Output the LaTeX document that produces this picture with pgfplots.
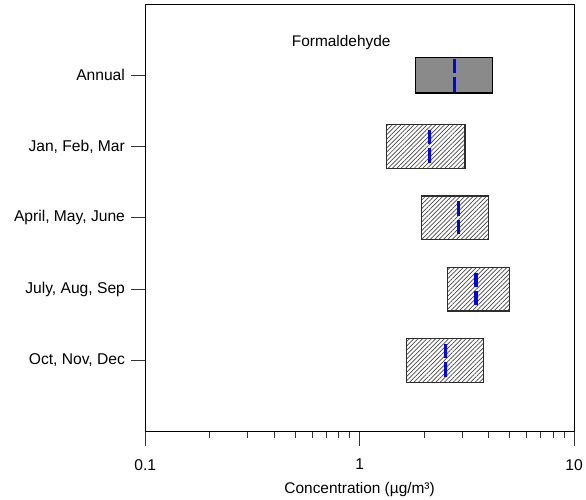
\documentclass[border=0pt]{standalone}
\usepackage{pgfplots}
\pgfplotsset{compat=1.18}
\usetikzlibrary{patterns.meta}
\usepackage{fontspec}
\setmainfont{Liberation Sans}

\definecolor{boxedge}{RGB}{45,45,45}
\definecolor{annualfill}{RGB}{138,138,138}
\definecolor{hatch}{RGB}{70,70,70}

\pgfplotsset{
  hatched/.style={draw=boxedge, line width=1.2bp, line join=miter,
    pattern={Lines[angle=45,distance=3.1bp,line width=0.7bp]}, pattern color=hatch},
  solidbox/.style={draw=black, line width=1.2bp, line join=miter, fill=annualfill},
  median/.style={blue, line width=3.6bp, dash pattern=on 14.5bp off 4bp},
}

\begin{document}
\begin{tikzpicture}
\begin{axis}[
  scale only axis, width=431bp, height=430bp,
  xmode=log, xmin=0.1, xmax=10, ymin=0, ymax=6,
  xtick={0.1,1,10}, xticklabels={0.1,1,10},
  ytick={1,2,3,4,5},
  yticklabels={{Oct, Nov, Dec},{July, Aug, Sep},{April, May, June},{Jan, Feb, Mar},Annual},
  xtick pos=bottom, ytick pos=left, tick align=outside,
  major tick length=14bp, minor tick length=6bp,
  every tick/.style={black!80, line width=0.8bp},
  axis line style={black, line width=0.9bp},
  tick label style={font=\fontsize{15.7bp}{18bp}\selectfont},
  xticklabel style={yshift=-10bp},
  yticklabel style={xshift=-3bp},
  label style={font=\fontsize{15.5bp}{18bp}\selectfont},
  xlabel={Concentration (µg/m³)},
  xlabel style={yshift=-5bp},
  /pgf/number format/assume math mode=true,
  clip=false,
]
  \coordinate (o) at (rel axis cs:0,0);

  % quartile boxes: (lower, y-h) (upper, y-h) (upper, y+h) (lower, y+h)
  \addplot[solidbox] coordinates {(1.83,4.751) (4.15,4.751) (4.15,5.249) (1.83,5.249)} -- cycle;
  \addplot[hatched] coordinates {(1.33,3.693) (3.10,3.693) (3.10,4.307) (1.33,4.307)} -- cycle;
  \addplot[hatched] coordinates {(1.944,2.693) (3.99,2.693) (3.99,3.307) (1.944,3.307)} -- cycle;
  \addplot[hatched] coordinates {(2.58,1.693) (4.99,1.693) (4.99,2.307) (2.58,2.307)} -- cycle;
  \addplot[hatched] coordinates {(1.65,0.693) (3.79,0.693) (3.79,1.307) (1.65,1.307)} -- cycle;

  % medians
  \addplot[median] coordinates {(2.77,5.232) (2.77,4.768)};
  \addplot[median] coordinates {(2.12,4.232) (2.12,3.768)};
  \addplot[median] coordinates {(2.89,3.232) (2.89,2.768)};
  \addplot[median] coordinates {(3.48,2.232) (3.48,1.768)};
  \addplot[median] coordinates {(2.51,1.232) (2.51,0.768)};

  \node[font=\fontsize{15.5bp}{18bp}\selectfont] at (rel axis cs:0.457,0.909) {Formaldehyde};
\end{axis}
\path (o) ++(-146bp,-63bp) rectangle ++(586bp,497bp);
\end{tikzpicture}
\end{document}
